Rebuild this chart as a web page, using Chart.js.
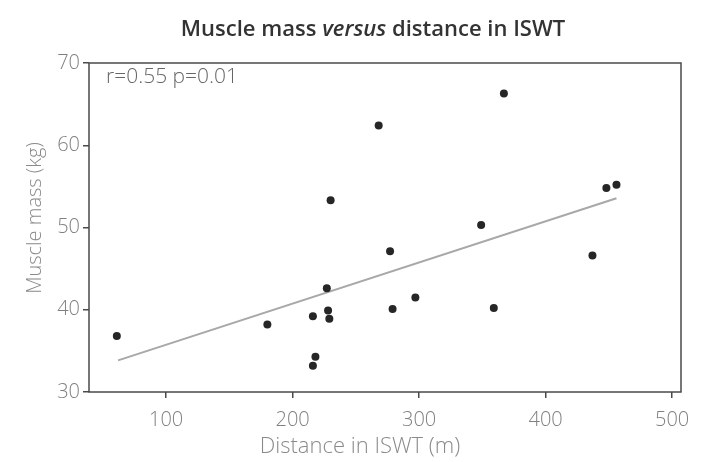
<!DOCTYPE html>
<html>
<head>
<meta charset="utf-8">
<script src="https://cdn.jsdelivr.net/npm/chart.js@4/dist/chart.umd.min.js"></script>
<style>
  html, body { margin: 0; padding: 0; background: #ffffff; }
  #wrap { width: 719px; height: 462px; }
</style>
</head>
<body>
<div id="wrap"><canvas id="c" width="719" height="462"></canvas></div>
<script>
// Data
const distance = [61, 180, 216, 216, 218, 227, 228, 229, 230, 268, 277, 279, 297, 349, 359, 367, 437, 448, 456];
const muscleMass = [36.8, 38.2, 39.2, 33.2, 34.3, 42.6, 39.9, 38.9, 53.3, 62.4, 47.1, 40.1, 41.5, 50.3, 40.2, 66.3, 46.6, 54.8, 55.2];
const fitX = [62, 456];
const fitY = [33.85, 53.55];
const xTicks = [100, 200, 300, 400, 500];
const yTicks = [30, 40, 50, 60, 70];
const titleText = ['Muscle mass ', 'versus', ' distance in ISWT'];
const xTitle = 'Distance in ISWT (m)';
const yTitle = 'Muscle mass (kg)';
const statsText = 'r=0.55 p=0.01';

const scatterData = distance.map((d, i) => ({ x: d, y: muscleMass[i] }));
const fitData = fitX.map((d, i) => ({ x: d, y: fitY[i] }));

const FAMILY = '"Open Sans", Lato, sans-serif';

const frameAndText = {
  id: 'frameAndText',
  afterDraw(chart) {
    const { ctx, chartArea: a } = chart;
    ctx.save();
    ctx.strokeStyle = '#4a4a4a';
    ctx.lineWidth = 1.5;
    ctx.strokeRect(a.left, a.top, a.right - a.left, a.bottom - a.top);
    ctx.textBaseline = 'middle';
    // stats annotation
    ctx.fillStyle = '#666666';
    ctx.font = '300 21px ' + FAMILY;
    ctx.textAlign = 'left';
    ctx.fillText(statsText, a.left + 17, a.top + 14);
    // axis titles
    ctx.fillStyle = '#8a8a8a';
    ctx.textAlign = 'center';
    ctx.font = '300 22px ' + FAMILY;
    ctx.fillText(xTitle, 360, 447);
    ctx.font = '300 20px ' + FAMILY;
    ctx.save();
    ctx.translate(35, 218);
    ctx.rotate(-Math.PI / 2);
    ctx.fillText(yTitle, 0, 0);
    ctx.restore();
    // title with italic middle word
    ctx.textAlign = 'left';
    const fonts = ['600 22px ' + FAMILY, 'italic 600 22px ' + FAMILY, '600 22px ' + FAMILY];
    let total = 0;
    const widths = titleText.map((t, i) => { ctx.font = fonts[i]; const w = ctx.measureText(t).width; total += w; return w; });
    let x = 373 - total / 2;
    ctx.fillStyle = '#333333';
    titleText.forEach((t, i) => { ctx.font = fonts[i]; ctx.fillText(t, x, 30); x += widths[i]; });
    ctx.restore();
  }
};

new Chart(document.getElementById('c'), {
  type: 'scatter',
  data: {
    datasets: [
      {
        label: 'fit',
        type: 'line',
        data: fitData,
        borderColor: '#a8a8a8',
        borderWidth: 2,
        pointRadius: 0,
        fill: false,
        order: 2
      },
      {
        label: 'points',
        data: scatterData,
        backgroundColor: '#262626',
        borderColor: '#262626',
        pointRadius: 4,
        pointBorderWidth: 0,
        order: 1
      }
    ]
  },
  options: {
    responsive: false,
    animation: false,
    devicePixelRatio: 1,
    layout: { padding: { left: 0, right: 38, top: 63, bottom: 0 } },
    plugins: {
      legend: { display: false },
      tooltip: { enabled: false },
      title: { display: false }
    },
    scales: {
      x: {
        type: 'linear',
        min: 39,
        max: 507,
        afterBuildTicks(scale) { scale.ticks = xTicks.map(v => ({ value: v })); },
        afterFit(scale) { scale.height = 70; },
        border: { display: false },
        grid: { display: true, drawOnChartArea: false, drawTicks: true, tickLength: 6, color: '#4a4a4a', lineWidth: 1.5 },
        ticks: { color: '#808080', padding: 10, font: { family: FAMILY, size: 20, weight: '300' } },
        title: { display: false }
      },
      y: {
        type: 'linear',
        min: 30,
        max: 70,
        afterBuildTicks(scale) { scale.ticks = yTicks.map(v => ({ value: v })); },
        afterFit(scale) { scale.width = 89; },
        border: { display: false },
        grid: { display: true, drawOnChartArea: false, drawTicks: true, tickLength: 6, color: '#4a4a4a', lineWidth: 1.5 },
        ticks: { color: '#808080', padding: 3, font: { family: FAMILY, size: 20, weight: '300' } },
        title: { display: false }
      }
    }
  },
  plugins: [frameAndText]
});
</script>
</body>
</html>
